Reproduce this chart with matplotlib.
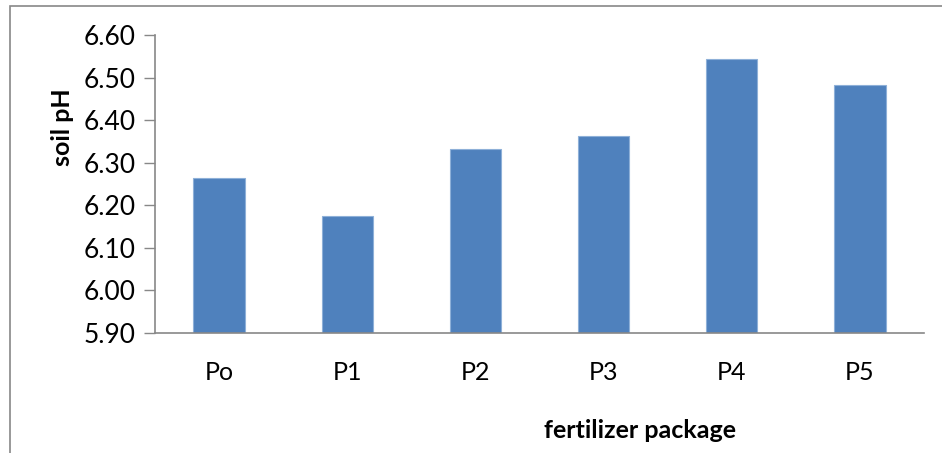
import matplotlib
matplotlib.use("Agg")
import matplotlib.pyplot as plt
from matplotlib.patches import Rectangle

categories = ["Po", "P1", "P2", "P3", "P4", "P5"]
soil_ph = [6.265, 6.176, 6.332, 6.362, 6.543, 6.482]
y_ticks = [5.90, 6.00, 6.10, 6.20, 6.30, 6.40, 6.50, 6.60]

plt.rcParams['font.family'] = ['Lato', 'DejaVu Sans']

W, H = 942, 453
fig = plt.figure(figsize=(W / 100, H / 100), dpi=100)
ax = fig.add_axes([155 / W, 1 - 333 / H, (924 - 155) / W, (333 - 35) / H])

x = range(len(categories))
ax.bar(x, soil_ph, width=0.4, bottom=0, color="#4F81BD", edgecolor="#8EB0D8", linewidth=0.8, zorder=2)
ax.set_xlim(-0.5, len(categories) - 0.5)
ax.set_ylim(5.90, 6.60)
ax.set_yticks(y_ticks)
ax.set_yticklabels([f"{v:.2f}" for v in y_ticks], fontsize=19)
ax.set_xticks(list(x))
ax.set_xticklabels(categories, fontsize=18)
ax.tick_params(axis="x", length=0, pad=20)
ax.tick_params(axis="y", length=8, width=1, color="#888888", pad=6)
for s in ["top", "right"]:
    ax.spines[s].set_visible(False)
for s in ["left", "bottom"]:
    ax.spines[s].set_color("#888888")
    ax.spines[s].set_linewidth(1.2)

fig.text(62 / W, 1 - 127 / H, "soil pH", rotation=90, fontsize=18, fontweight="bold",
         ha="center", va="center")
fig.text(640 / W, 1 - 431 / H, "fertilizer package", fontsize=18, fontweight="bold",
         ha="center", va="center")

fig.patches.append(Rectangle((9.5 / W, -0.1), 1.2, 1 - 6.5 / H + 0.1, transform=fig.transFigure,
                             fill=False, edgecolor="#888888", linewidth=1.2))

fig.savefig("out.png", dpi=100)
